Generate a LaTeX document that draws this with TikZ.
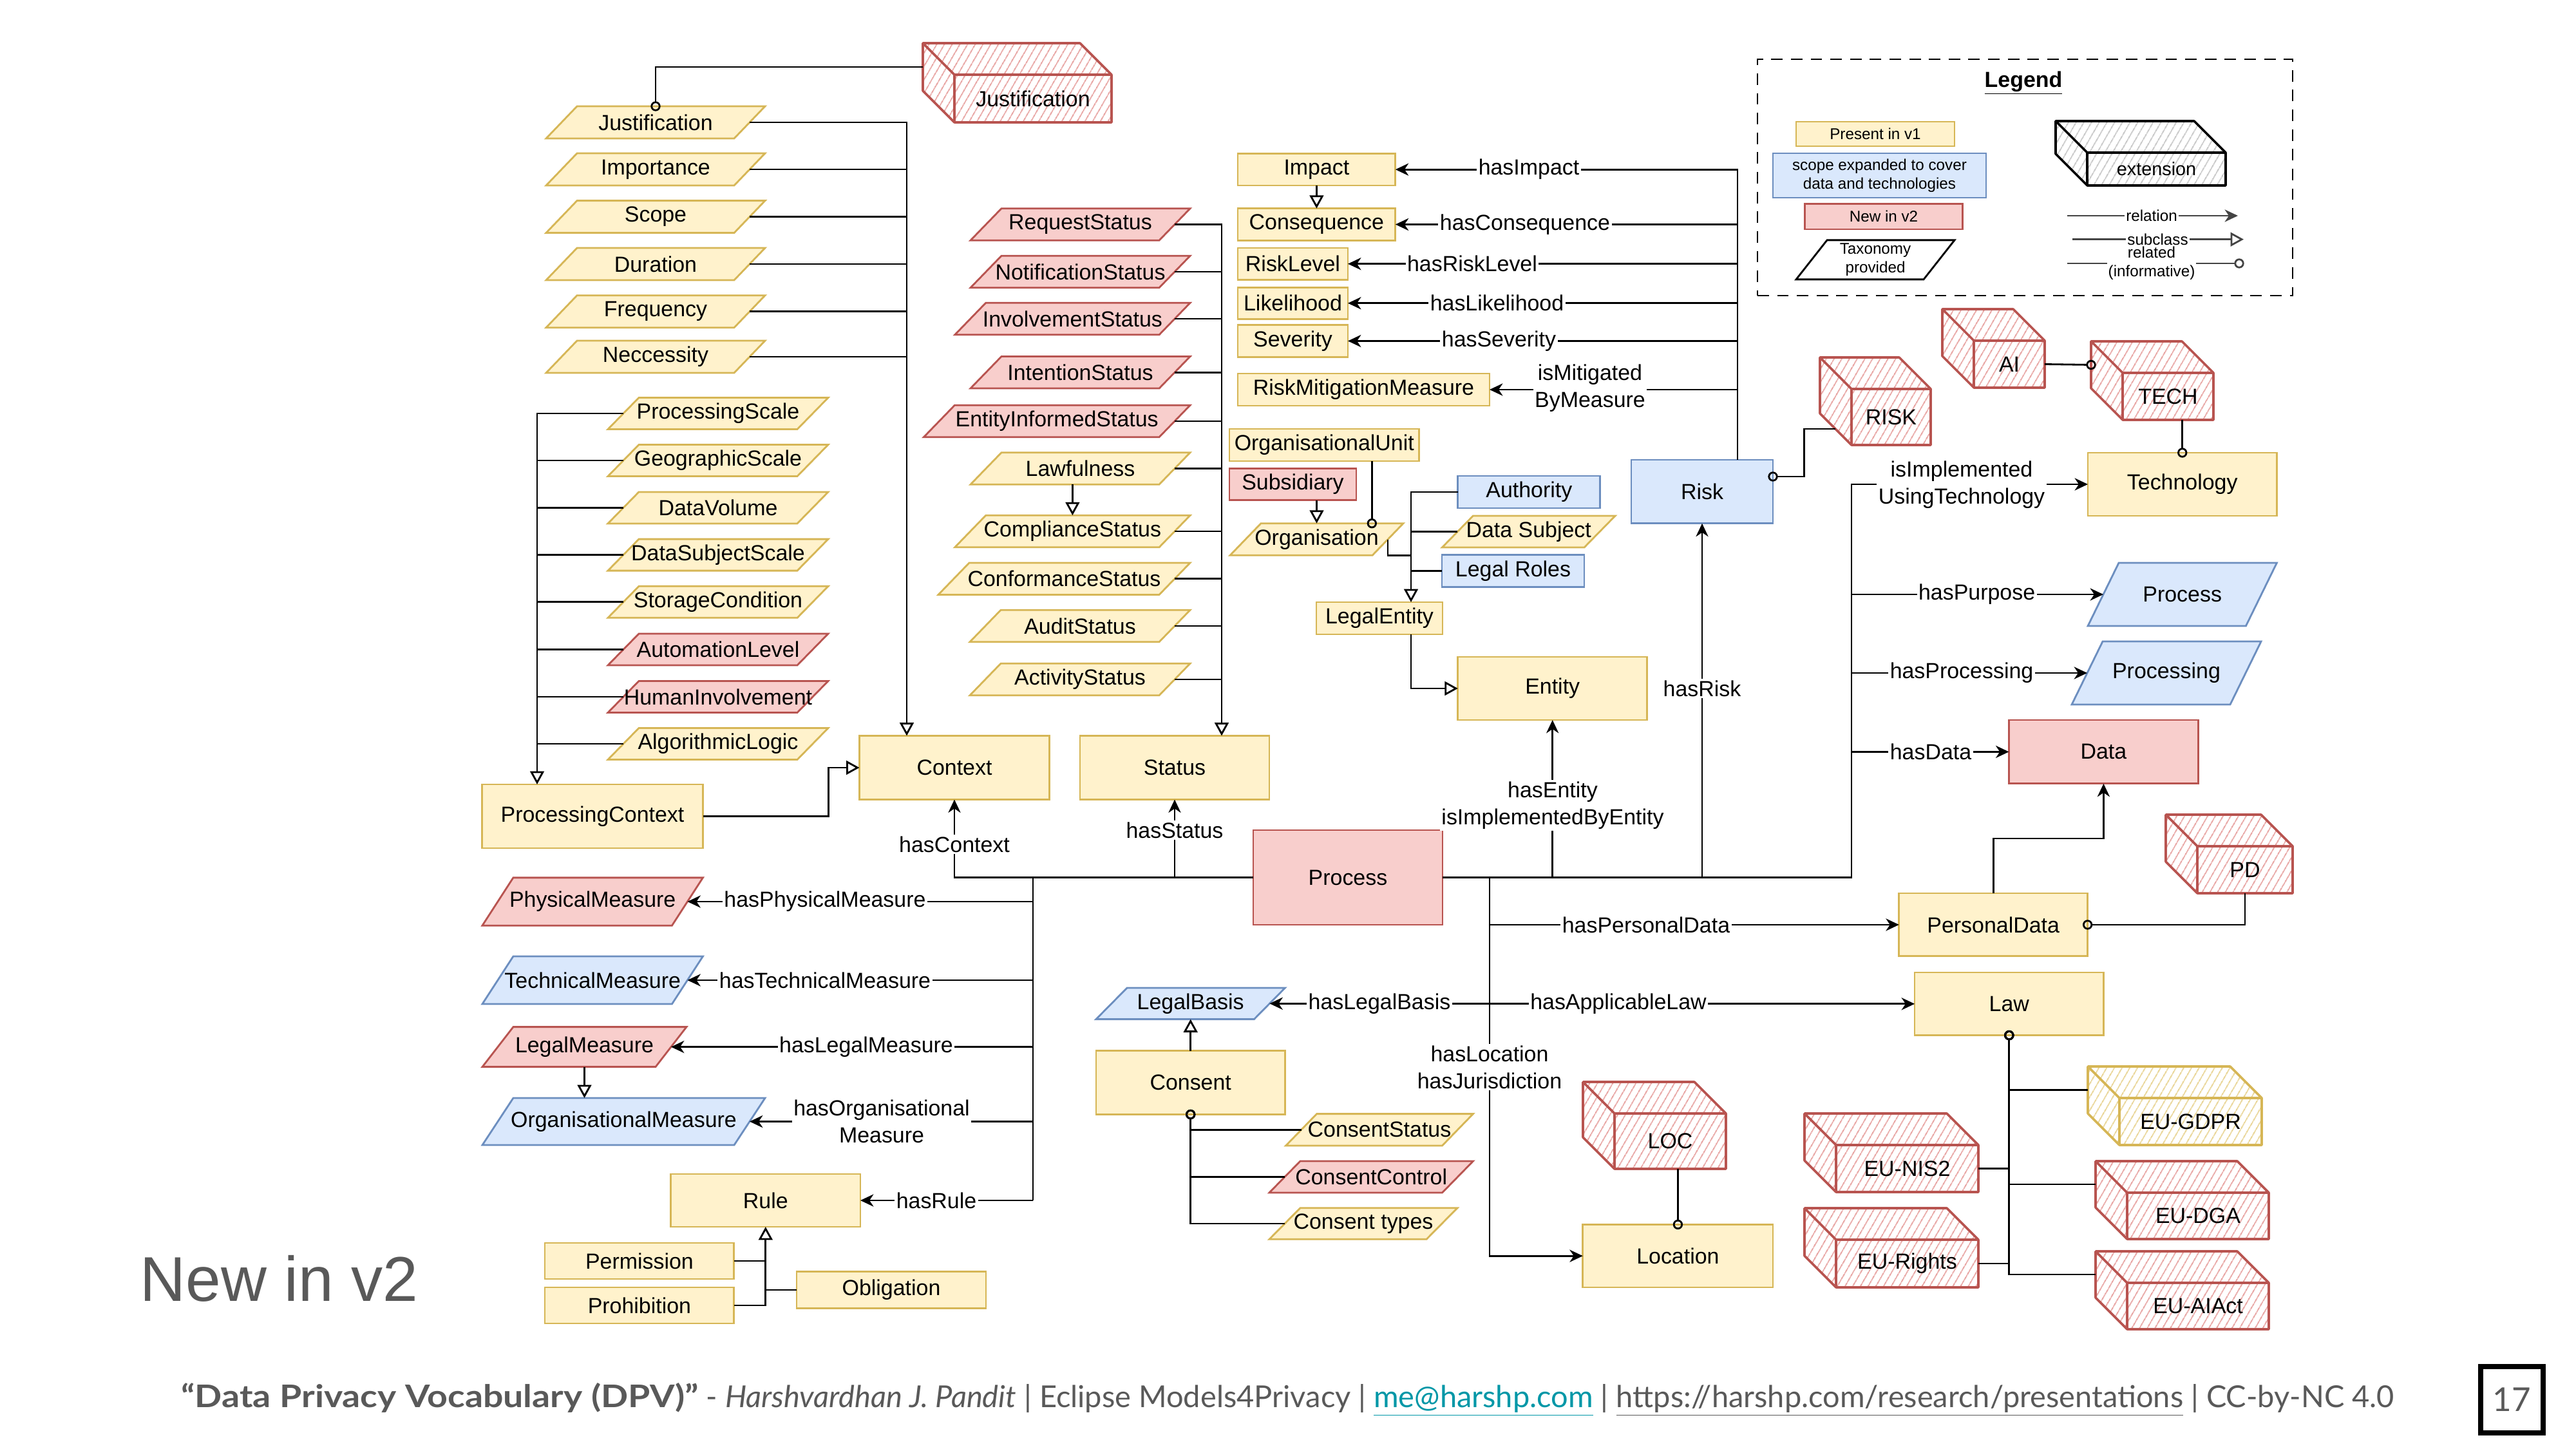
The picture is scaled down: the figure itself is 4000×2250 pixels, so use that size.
\documentclass[tikz,border=0pt]{standalone}
\usepackage{fontspec}
\setmainfont{Liberation Sans}
\newfontfamily\footfont{Lato}
\usepackage{graphicx}
\usetikzlibrary{shapes.geometric,arrows.meta,patterns.meta,calc}
\definecolor{yfill}{HTML}{FFF2CC}\definecolor{ydraw}{HTML}{D6B656}
\definecolor{bfill}{HTML}{DAE8FC}\definecolor{bdraw}{HTML}{6C8EBF}
\definecolor{rfill}{HTML}{F8CECC}\definecolor{rdraw}{HTML}{B85450}
\definecolor{rhatch}{HTML}{E8A4A2}\definecolor{yhatch}{HTML}{E9D595}
\definecolor{khatch}{HTML}{C8C8C8}
\definecolor{txtgray}{HTML}{595959}\definecolor{linkteal}{HTML}{0097A7}
\definecolor{leggray}{HTML}{444444}
\newcommand{\PX}{0.392pt}
\newcommand{\mainfs}{\fontsize{13.3}{16.4}\selectfont}
\newcommand{\legfs}{\fontsize{9.5}{11.4}\selectfont}
\tikzset{
  base/.style={font=\mainfs, text=black, inner sep=0pt, outer sep=0pt, line width=1.1pt},
  sz/.style 2 args={minimum width=#1*\PX, minimum height=#2*\PX},
  boxY/.style={base, rectangle, draw=ydraw, fill=yfill},
  boxB/.style={base, rectangle, draw=bdraw, fill=bfill},
  boxR/.style={base, rectangle, draw=rdraw, fill=rfill},
  parY/.style={line width=1.1pt, draw=ydraw, fill=yfill},
  parB/.style={line width=1.1pt, draw=bdraw, fill=bfill},
  parR/.style={line width=1.1pt, draw=rdraw, fill=rfill},
  parK/.style={line width=1.1pt, draw=black, fill=white},
  lbl/.style={base, fill=white, inner sep=1pt, align=center},
  conn/.style={draw=black, line width=1.1pt},
  rel/.style={conn, -{Stealth[length=8pt,width=7.5pt,inset=2.5pt]}},
  sub/.style={conn, -{Triangle[length=8pt,width=8.5pt,fill=white]}},
  relo/.style={conn, -{Circle[open,length=6pt,width=6pt]}, shorten >=-3pt},
  orel/.style={conn, {Circle[open,length=6pt,width=6pt]}-, shorten <=-3pt},
}
% parallelogram: style, name, cx, cy, w, h, text (slant 48)
\newcommand{\dpvpara}[7]{%
  \draw[#1] ({#3-#5/2+48},{#4-#6/2}) -- ({#3+#5/2},{#4-#6/2}) -- ({#3+#5/2-48},{#4+#6/2}) -- ({#3-#5/2},{#4+#6/2}) -- cycle;
  \node[base, minimum width={(#5-48)*\PX}, minimum height={#6*\PX}] (#2) at (#3,#4) {\makebox[0pt]{#7}};
}
% cube: hatch colour, stroke colour, name, L, T, R, B, text (depth 49)
\newcommand{\dpvcube}[8]{%
  \path[pattern={Lines[angle=60,distance=4pt,line width=0.8pt]}, pattern color=#1]
    (#4,#5) -- ({#6-49},#5) -- (#6,{#5+49}) -- (#6,#7) -- ({#4+49},#7) -- (#4,{#7-49}) -- cycle;
  \draw[line width=1.4pt, draw=#2, line join=round]
    (#4,#5) -- ({#6-49},#5) -- (#6,{#5+49}) -- (#6,#7) -- ({#4+49},#7) -- (#4,{#7-49}) -- cycle
    (#4,#5) -- ({#4+49},{#5+49}) -- (#6,{#5+49})
    ({#4+49},{#5+49}) -- ({#4+49},#7);
  \node[base, minimum width={(#6-#4-49)*\PX}, minimum height={(#7-#5-49)*\PX}] (#3) at ({(#4+49+#6)/2},{(#5+49+#7)/2}) {#8};
  \coordinate (#3-w) at (#4,{(#5+#7-49)/2});
}
\begin{document}
\begin{tikzpicture}[x=0.392pt,y=-0.392pt]
\fill[white] (0,0) rectangle (4000,2250);
\useasboundingbox (0,0) rectangle (4000,2250);

% ---------- left column: justification taxonomy
\dpvpara{parY}{j1}{1018}{190}{340}{50}{Justification}
\dpvpara{parY}{j2}{1018}{263}{340}{50}{Importance}
\dpvpara{parY}{j3}{1018}{336.6}{340}{50}{Scope}
\dpvpara{parY}{j4}{1018}{410}{340}{50}{Duration}
\dpvpara{parY}{j5}{1018}{483.7}{340}{50}{Frequency}
\dpvpara{parY}{j6}{1018}{554}{340}{50}{Neccessity}
\dpvcube{rhatch}{rdraw}{jcube}{1433}{67}{1726}{190}{Justification}

% ---------- processing context taxonomy
\dpvpara{parY}{p1}{1115}{642}{342}{49}{ProcessingScale}
\dpvpara{parY}{p2}{1115}{715}{342}{49}{GeographicScale}
\dpvpara{parY}{p3}{1115}{788.4}{342}{49}{DataVolume}
\dpvpara{parY}{p4}{1115}{861.6}{342}{49}{DataSubjectScale}
\dpvpara{parY}{p5}{1115}{934.8}{342}{49}{StorageCondition}
\dpvpara{parR}{p6}{1115}{1008.5}{342}{49}{AutomationLevel}
\dpvpara{parR}{p7}{1115}{1082}{342}{49}{HumanInvolvement}
\dpvpara{parY}{p8}{1115}{1155}{342}{49}{AlgorithmicLogic}

\node[boxY, sz={343.5}{99}] (pc) at (920,1267.5) {ProcessingContext};
\node[boxY, sz={295}{99}] (context) at (1482,1192) {Context};
\node[boxY, sz={294}{99}] (status) at (1824,1192) {Status};
\node[boxR, sz={294}{147}] (process) at (2093,1362.5) {Process};

% ---------- status taxonomy
\dpvpara{parR}{s1}{1677.5}{348.5}{341}{49.5}{RequestStatus}
\dpvpara{parR}{s2}{1677.5}{422}{341}{49.5}{NotificationStatus}
\dpvpara{parR}{s3}{1665.4}{495}{365.3}{49.5}{InvolvementStatus}
\dpvpara{parR}{s4}{1677.5}{578.3}{341}{49.5}{IntentionStatus}
\dpvpara{parR}{s5}{1641.2}{654}{413.6}{49.5}{EntityInformedStatus}
\dpvpara{parY}{s6}{1677.5}{727.5}{341}{49.5}{Lawfulness}
\dpvpara{parY}{s7}{1665.4}{825}{365.3}{49.5}{ComplianceStatus}
\dpvpara{parY}{s8}{1652.5}{898.7}{391}{49.5}{ConformanceStatus}
\dpvpara{parY}{s9}{1677}{972}{342}{49.5}{AuditStatus}
\dpvpara{parY}{s10}{1677}{1055}{342}{49.5}{ActivityStatus}

% ---------- risk group
\node[boxY, sz={244.8}{49.6}] (impact) at (2044.4,263.2) {Impact};
\node[boxY, sz={244.8}{49.6}] (conseq) at (2044.4,348.5) {Consequence};
\node[boxY, sz={171}{49.4}] (risklevel) at (2007.5,409.7) {RiskLevel};
\node[boxY, sz={171}{49.4}] (likelihood) at (2007.5,470.8) {Likelihood};
\node[boxY, sz={171}{49.4}] (severity) at (2007.5,529.5) {Severity};
\node[boxY, sz={391}{50}] (rmm) at (2117.5,605) {RiskMitigationMeasure};
\node[boxB, sz={220}{98.8}] (risk) at (2643,763.4) {Risk};

% ---------- organisation / entity
\node[boxY, sz={294.6}{50}] (orgunit) at (2056.3,691) {OrganisationalUnit};
\node[boxR, sz={197}{49.7}] (subsid) at (2007.5,752) {Subsidiary};
\dpvpara{parY}{organisation}{2044.5}{837.5}{269}{49.6}{Organisation}
\node[boxB, sz={221}{50}] (authority) at (2374.3,764) {Authority};
\dpvpara{parY}{datasubject}{2373.7}{825.5}{268.7}{49}{Data Subject}
\node[boxB, sz={221}{50}] (legalroles) at (2349.5,886.7) {Legal Roles};
\node[boxY, sz={196}{50}] (legalentity) at (2142,960) {LegalEntity};
\node[boxY, sz={293.8}{98}] (entity) at (2410.7,1069) {Entity};

% ---------- right side
\node[boxY, sz={293.4}{98}] (technology) at (3388.7,752) {Technology};
\dpvpara{parB}{purpose}{3388.7}{923}{293.4}{98}{Process}
\dpvpara{parB}{processing}{3364}{1045}{294}{98}{Processing}
\node[boxR, sz={294}{98.8}] (data) at (3266.4,1167.4) {Data};
\node[boxY, sz={292.8}{97.7}] (personaldata) at (3095.2,1435.9) {PersonalData};
\node[boxY, sz={293.5}{97.6}] (law) at (3119.8,1558.8) {Law};
\node[boxY, sz={295.2}{97.5}] (location) at (2605.4,1950.2) {Location};

\dpvcube{rhatch}{rdraw}{riskc}{2826}{555}{2998}{691}{RISK}
\dpvcube{rhatch}{rdraw}{aic}{3016}{480}{3175}{602}{AI}
\dpvcube{rhatch}{rdraw}{techc}{3247}{530}{3437}{652}{TECH}
\dpvcube{rhatch}{rdraw}{pdc}{3363}{1265}{3560}{1387}{PD}
\dpvcube{rhatch}{rdraw}{locc}{2458}{1680}{2680}{1815}{LOC}
\dpvcube{yhatch}{ydraw}{gdpr}{3242}{1656}{3512}{1778}{EU-GDPR}
\dpvcube{rhatch}{rdraw}{nis2}{2802}{1729}{3072}{1851}{EU-NIS2}
\dpvcube{rhatch}{rdraw}{dga}{3254}{1803}{3523}{1924}{EU-DGA}
\dpvcube{rhatch}{rdraw}{rights}{2802}{1876}{3072}{1999}{EU-Rights}
\dpvcube{rhatch}{rdraw}{aiact}{3254}{1943}{3523}{2064}{EU-AIAct}

% ---------- measures / rules
\dpvpara{parR}{physm}{920.2}{1400}{342.5}{74.3}{PhysicalMeasure}
\dpvpara{parB}{techm}{920.2}{1522}{342.5}{74}{TechnicalMeasure}
\dpvpara{parR}{legalm}{907.5}{1625.6}{317}{62}{LegalMeasure}
\dpvpara{parB}{orgm}{968.5}{1741.5}{439}{73}{OrganisationalMeasure}
\node[boxY, sz={294.4}{82}] (rule) at (1188.8,1864) {Rule};
\node[boxY, sz={293.7}{56}] (permission) at (992.9,1958) {Permission};
\node[boxY, sz={293.7}{56}] (prohibition) at (992.9,2027) {Prohibition};
\node[boxY, sz={294}{57}] (obligation) at (1384,2003) {Obligation};

% ---------- legal basis / consent
\dpvpara{parB}{legalbasis}{1848.7}{1558.3}{293.4}{48.6}{LegalBasis}
\node[boxY, sz={293.4}{99}] (consent) at (1848.7,1681) {Consent};
\dpvpara{parY}{consentstatus}{2142}{1754.3}{290.8}{49.4}{ConsentStatus}
\dpvpara{parR}{consentcontrol}{2129.2}{1827.5}{316.5}{49}{ConsentControl}
\dpvpara{parY}{consenttypes}{2117}{1900}{292}{48.5}{Consent types}

% ================= connectors
% justification
\draw[relo] (jcube-w) -| (j1.north);
\coordinate (jbus) at (1408,0);
\draw[sub] (j1.east) -| (jbus |- context.north);
\foreach \nn in {j2,j3,j4,j5,j6} \draw[conn] (\nn.east) -- (jbus |- \nn.east);
% processing context
\coordinate (pbus) at (834,0);
\draw[sub] (p1.west) -| (pbus |- pc.north);
\foreach \nn in {p2,p3,p4,p5,p6,p7,p8} \draw[conn] (\nn.west) -- (pbus |- \nn.west);
\draw[sub] (pc.east) -- ++(194.5,0) |- (context.west);
% status
\coordinate (sbus) at (1897,0);
\draw[sub] (s1.east) -| (sbus |- status.north);
\foreach \nn in {s2,s3,s4,s5,s6,s7,s8,s9,s10} \draw[conn] (\nn.east) -- (sbus |- \nn.east);
\draw[sub] (s6.south -| s7.north) -- (s7.north);
% process to context / status
\draw[rel] (process.west) -| (context.south);
\draw[rel] (process.west) -| (status.south);
\node[lbl] (lctx) at (1482,1311) {hasContext};
\node[lbl] (lst) at (1824,1289) {hasStatus};
% measures
\coordinate (mbus) at (1604,0);
\draw[conn] (mbus |- process.west) -- (mbus |- rule.east);
\draw[rel] (mbus |- physm.east) -- (physm.east);
\draw[rel] (mbus |- techm.east) -- (techm.east);
\draw[rel] (mbus |- legalm.east) -- (legalm.east);
\draw[rel] (mbus |- orgm.east) -- (orgm.east);
\draw[rel] (mbus |- rule.east) -- (rule.east);
\node[lbl] (lpm) at (1281,1400) {hasPhysicalMeasure};
\node[lbl] (ltm) at (1281,1522) {hasTechnicalMeasure};
\node[lbl] (llm) at (1345,1625.6) {hasLegalMeasure};
\node[lbl] (lom) at (1369,1741.5) {hasOrganisational\\Measure};
\node[lbl] (lru) at (1454,1864) {hasRule};
\draw[sub] (legalm.south) -- (legalm.south |- orgm.north);
\draw[sub] (prohibition.east) -| (rule.south);
\draw[conn] (permission.east) -- (permission.east -| rule.south);
\draw[conn] (obligation.west) -- (obligation.west -| rule.south);
% risk group
\coordinate (rbus) at (2698,0);
\draw[rel] (rbus |- risk.north) |- (impact.east);
\draw[rel] (rbus |- conseq.east) -- (conseq.east);
\draw[rel] (rbus |- risklevel.east) -- (risklevel.east);
\draw[rel] (rbus |- likelihood.east) -- (likelihood.east);
\draw[rel] (rbus |- severity.east) -- (severity.east);
\draw[rel] (rbus |- rmm.east) -- (rmm.east);
\draw[sub] (impact.south) -- (conseq.north);
\node[lbl] (limp) at (2374,263.2) {hasImpact};
\node[lbl] (lcon) at (2368,348.5) {hasConsequence};
\node[lbl] (lrl) at (2286,409.7) {hasRiskLevel};
\node[lbl] (llh) at (2324.5,470.8) {hasLikelihood};
\node[lbl] (lsev) at (2327.5,529.5) {hasSeverity};
\node[lbl] (lmit) at (2469,603) {isMitigated\\ByMeasure};
\coordinate (riskcin) at (2850,666);
\draw[orel] ($(risk.north east)+(0,26)$) -- ++(48.6,0) |- (riskcin);
\draw[relo] (aic.east) -- (techc-w);
\draw[relo] (techc.south -| technology.north) -- (technology.north);
% organisation / legal entity
\coordinate (lebus) at (2191,0);
\draw[sub] (authority.west) -| (lebus |- legalentity.north);
\draw[conn] (datasubject.west) -- (lebus |- datasubject.west);
\draw[conn] (legalroles.west) -- (lebus |- legalroles.west);
\draw[conn] (organisation.east) |- (lebus |- organisation.south);
\draw[sub] (legalentity.south -| lebus) |- (entity.west);
\draw[sub] (subsid.south -| organisation.north) -- (organisation.north);
\draw[relo] ([xshift=74*\PX]orgunit.south) -- ([xshift=74*\PX]orgunit.south |- organisation.north);
% process to the right
\coordinate (ibus) at (2875,0);
\draw[rel] (process.east) -| (entity.south);
\draw[rel] (process.east) -| (risk.south);
\draw[rel] (process.east) -| (ibus |- technology.west) -- (technology.west);
\draw[rel] (ibus |- purpose.west) -- (purpose.west);
\draw[rel] (ibus |- processing.west) -- (processing.west);
\draw[rel] (ibus |- data.west) -- (data.west);
\node[lbl] (lent) at (2411,1250.5) {hasEntity\\isImplementedByEntity};
\node[lbl] (lrisk) at (2643,1069) {hasRisk};
\node[lbl] (ltech) at (3046,753) {isImplemented\\UsingTechnology};
\node[lbl] (lpur) at (3069.6,923) {hasPurpose};
\node[lbl] (lproc) at (3046,1045) {hasProcessing};
\node[lbl] (ldata) at (2998,1167.4) {hasData};
% process downwards
\coordinate (dbus) at (2313,0);
\draw[rel] (dbus |- process.east) |- (location.west);
\draw[rel] (dbus |- personaldata.west) -- (personaldata.west);
\draw[rel] (dbus |- legalbasis.east) -- (legalbasis.east);
\draw[rel] (dbus |- law.west) -- (law.west);
\node[lbl] (lpd) at (2556,1435.9) {hasPersonalData};
\node[lbl] (llb) at (2142,1558.3) {hasLegalBasis};
\node[lbl] (llaw) at (2513,1558.8) {hasApplicableLaw};
\node[lbl] (lloc) at (2313,1657) {hasLocation\\hasJurisdiction};
% consent
\draw[sub] (consent.north) -- (legalbasis.south);
\draw[relo] (consentstatus.west) -| (consent.south);
\draw[relo] (consentcontrol.west) -| (consent.south);
\draw[relo] (consenttypes.west) -| (consent.south);
% personal data
\draw[rel] (personaldata.north) |- ($(personaldata.north)!.5!(data.south)$) -| (data.south);
\draw[relo] (pdc.south) |- (personaldata.east);
\draw[relo] (locc.south -| location.north) -- (location.north);
% laws
\draw[relo] (gdpr-w) -| (law.south);
\draw[relo] (nis2.east) -| (law.south);
\draw[relo] (dga-w) -| (law.south);
\draw[relo] (rights.east) -| (law.south);
\draw[relo] (aiact-w) -| (law.south);

% ================= legend
\node[draw=black, line width=1.1pt, dash pattern=on 7pt off 5pt, sz={831}{367}] (legend) at (3144.5,275.5) {};
\node[base, font=\mainfs\bfseries] (legtitle) at (3142,129) {\underline{Legend}};
\node[boxY, sz={246}{38}, font=\legfs] (lg1) at (2912,208) {Present in v1};
\node[boxB, sz={331}{69}, font=\legfs, align=center] (lg2) at (2918.5,272.5) {scope expanded to cover\\data and technologies};
\node[boxR, sz={245.6}{39.3}, font=\legfs] (lg3) at (2925,336.3) {New in v2};
\dpvpara{parK}{lg4}{2912}{403.4}{246}{61}{\legfs\begin{tabular}{@{}c@{}}Taxonomy\\provided\end{tabular}}
\dpvcube{khatch}{black}{lgcube}{3192}{188}{3456}{288}{\fontsize{11.3}{13}\selectfont extension}
\coordinate (la1) at (3210,335); \coordinate (lb1) at (3475,335);
\coordinate (la2) at (3218,371.7); \coordinate (lb2) at (3484,371.7);
\coordinate (la3) at (3210,409); \coordinate (lb3) at (3477,409);
\draw[rel, draw=leggray] (la1) -- (lb1);
\draw[sub, draw=leggray] (la2) -- (lb2);
\draw[relo, draw=leggray] (la3) -- (lb3);
\node[lbl, font=\legfs] (lgr1) at (3341,335) {relation};
\node[lbl, font=\legfs] (lgr2) at (3350.5,371.7) {subclass};
\node[lbl, font=\legfs, inner sep=0.5pt] (lgr3) at (3341,409) {related\\(informative)};

% ================= slide text
\node[font=\fontsize{38.5}{46}\selectfont, text=txtgray, inner sep=0pt] (newv2) at (433.5,1985) {New in v2};
\node[anchor=west, inner sep=0pt] (footer) at (281,2173.5) {\resizebox{1347pt}{!}{\footfont\fontsize{17}{20}\selectfont\color{txtgray}\scalebox{1.18}[1.03]{\textbf{“Data Privacy Vocabulary (DPV)”}} - \textit{Harshvardhan J. Pandit} | Eclipse Models4Privacy | {\color{linkteal}\underline{me@harshp.com}} | \underline{https://harshp.com/research/presentations} | CC-by-NC 4.0}};
\node[draw=black, line width=3pt, sz={97}{103}, text=txtgray, font=\footfont\fontsize{20}{24}\selectfont] (pagenum) at (3900.5,2173.5) {17};
\end{tikzpicture}
\end{document}
